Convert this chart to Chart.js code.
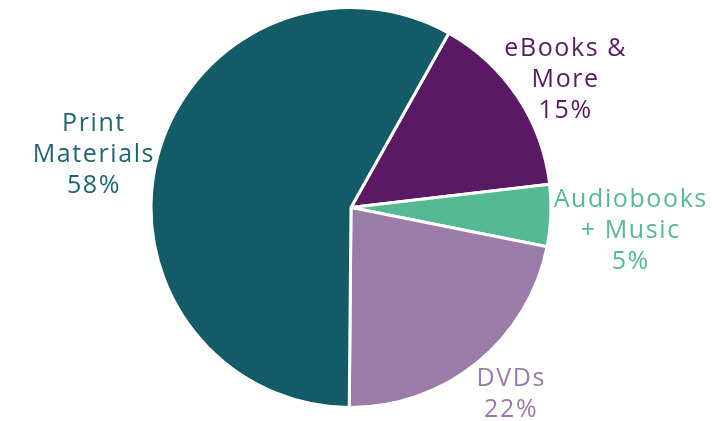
<!DOCTYPE html>
<html><head><meta charset="utf-8">
<script src="https://cdn.jsdelivr.net/npm/chart.js@4.4.1/dist/chart.umd.min.js"></script>
<style>html,body{margin:0;padding:0;background:#fff}#wrap{width:712px;height:421px}</style>
</head><body><div id="wrap"><canvas id="c" width="712" height="421"></canvas></div>
<script>
const categories = ["eBooks & More", "Audiobooks + Music", "DVDs", "Print Materials"];
const labelLines = [["eBooks &", "More"], ["Audiobooks", "+ Music"], ["DVDs"], ["Print", "Materials"]];
const values = [15, 5, 22, 58];
const colors = ["#5b1865", "#55b994", "#9b7ba7", "#135b67"];
const textColors = ["#5b1865", "#55b994", "#9b7ba7", "#1d6672"];
// label placement: radial factor along slice mid-angle plus small pixel nudge
const labelPlace = [{f:1.26,dx:5,dy:12},{f:1.34,dx:12,dy:13},{f:1.23,dx:5,dy:-4},{f:1.33,dx:0,dy:16}];

const labelPlugin = {
  id: 'sliceLabels',
  afterDatasetsDraw(chart) {
    const ctx = chart.ctx;
    const meta = chart.getDatasetMeta(0);
    ctx.save();
    ctx.font = '400 25px "Open Sans"';
    if ('letterSpacing' in ctx) ctx.letterSpacing = '1.6px';
    ctx.textAlign = 'center';
    ctx.textBaseline = 'middle';
    const lh = 31;
    meta.data.forEach((arc, i) => {
      const p = arc.getProps(['x','y','startAngle','endAngle','outerRadius'], true);
      const mid = (p.startAngle + p.endAngle) / 2;
      const r = p.outerRadius * labelPlace[i].f;
      const cx = p.x + Math.cos(mid) * r + labelPlace[i].dx;
      const cy = p.y + Math.sin(mid) * r + labelPlace[i].dy;
      const lines = labelLines[i].concat([values[i] + '%']);
      const y0 = cy - (lines.length - 1) * lh / 2;
      ctx.fillStyle = textColors[i];
      lines.forEach((t, k) => ctx.fillText(t, cx, y0 + k * lh));
    });
    ctx.restore();
  }
};

new Chart(document.getElementById('c'), {
  type: 'pie',
  data: {
    labels: categories,
    datasets: [{
      data: values,
      backgroundColor: colors,
      borderColor: '#ffffff',
      borderWidth: 3
    }]
  },
  options: {
    responsive: false,
    animation: false,
    rotation: 29.3,
    layout: { padding: { left: 2, right: 12, top: 6, bottom: 12 } },
    plugins: { legend: { display: false }, tooltip: { enabled: false } }
  },
  plugins: [labelPlugin]
});
</script></body></html>
